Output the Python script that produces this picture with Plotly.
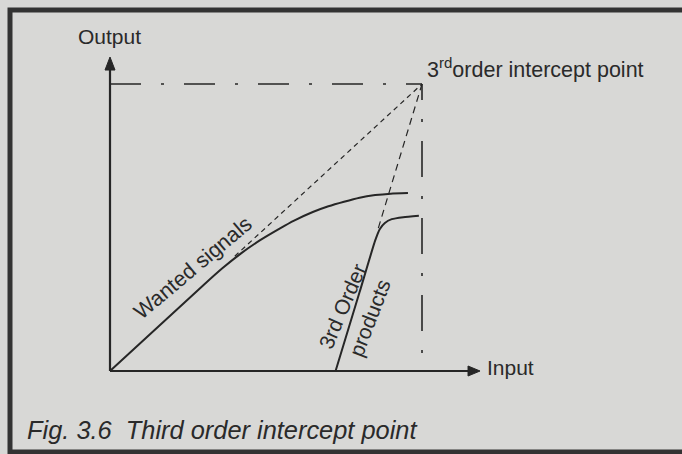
import plotly.graph_objects as go

# ---- data (arbitrary units; origin = 0, intercept = 10) ----
wanted_x = [0, 3.0, 3.6, 4.2, 4.8, 5.45, 5.9, 6.5, 7.0, 7.5, 8.0, 8.5, 9.0, 9.55]
wanted_y = [0, 3.0, 3.58, 4.1, 4.55, 4.97, 5.24, 5.54, 5.74, 5.9, 6.04, 6.13, 6.18, 6.2]

third_x = [7.23, 8.0, 8.5, 8.65, 8.81, 9.03, 9.4, 9.9]
third_y = [0, 2.75, 4.55, 4.95, 5.16, 5.29, 5.36, 5.41]

intercept_x = 10
intercept_y = 10
wanted_ext_start = (4.0, 4.0)
third_ext_start = (8.6, 4.98)
vert_drop_end = 0.63

x_axis_len = 11.86
y_axis_len = 10.94

W, H = 682, 454
X0_PX, XU = 110, 31.2     # pixel of x=0, pixels per unit
Y0_PX, YU = 371, 28.7

xr = [-X0_PX / XU, (W - X0_PX) / XU]
yr = [(Y0_PX - H) / YU, Y0_PX / YU]

INK = "#262626"
TXT = "#2a2a2a"
BG = "#d8d8d6"
FONT = "Liberation Sans, Arial, Helvetica, sans-serif"

fig = go.Figure()

def line(x, y, width=1.8, dash=None, shape="linear", color=INK, smoothing=0.6):
    fig.add_trace(go.Scatter(x=x, y=y, mode="lines", hoverinfo="skip",
                             line=dict(color=color, width=width, dash=dash,
                                       shape=shape, smoothing=smoothing)))

# axes
line([0, x_axis_len - 0.3], [0, 0], width=2.2)
line([0, 0], [0, y_axis_len - 0.35], width=2.2)
# arrowheads
ah_len_x, ah_w_y = 12 / XU, 5 / YU
fig.add_trace(go.Scatter(x=[x_axis_len, x_axis_len - ah_len_x, x_axis_len - ah_len_x, x_axis_len],
                         y=[0, ah_w_y, -ah_w_y, 0], fill="toself", fillcolor=INK,
                         mode="lines", line=dict(color=INK, width=1), hoverinfo="skip"))
ah_len_y, ah_w_x = 13 / YU, 5 / XU
fig.add_trace(go.Scatter(x=[0, ah_w_x, -ah_w_x, 0],
                         y=[y_axis_len, y_axis_len - ah_len_y, y_axis_len - ah_len_y, y_axis_len],
                         fill="toself", fillcolor=INK, mode="lines",
                         line=dict(color=INK, width=1), hoverinfo="skip"))

# dash-dot guide lines to the intercept point
line([0, intercept_x], [intercept_y, intercept_y], width=1.5, dash="31px,20px,3px,20px")
line([intercept_x, intercept_x], [vert_drop_end, intercept_y], width=1.6, dash="3px,19px,36px,19px")

# dashed extrapolations
line([wanted_ext_start[0], intercept_x], [wanted_ext_start[1], intercept_y], width=1.2, dash="5px,4px")
line([third_ext_start[0], intercept_x], [third_ext_start[1], intercept_y], width=1.2, dash="7px,5px")

# curves
line(wanted_x, wanted_y, width=2.0, shape="spline", smoothing=0.5)
line(third_x, third_y, width=2.0, shape="spline", smoothing=0.5)

def X(px):
    return (px - X0_PX) / XU

def Y(py):
    return (Y0_PX - py) / YU

def ann(text, px, py, size=20, angle=0, xanchor="center"):
    fig.add_annotation(x=X(px), y=Y(py), text=text, showarrow=False, textangle=angle,
                       xanchor=xanchor, yanchor="middle", borderpad=0,
                       font=dict(family=FONT, size=size, color=TXT))

ann("Output", 77, 36, size=21, xanchor="left")
ann("Input", 486, 367, size=21, xanchor="left")
ann("3<sup>rd</sup>order intercept point", 426, 68, size=21.5, xanchor="left")
ann("Wanted signals", 193, 268, size=21.5, angle=-40)
ann("3rd Order", 342, 306, size=21, angle=-67)
ann("products", 369, 318, size=21, angle=-69)
ann("<i>Fig. 3.6\u00a0\u00a0Third order intercept point</i>", 26, 430, size=25.4, xanchor="left")

# frame of the printed figure
fig.add_shape(type="rect", xref="paper", yref="paper",
              x0=10 / W, x1=720 / W, y0=1 - 452 / H, y1=1 - 10 / H,
              line=dict(color="#333333", width=5), layer="below")

fig.update_layout(
    width=W, height=H, margin=dict(l=0, r=0, t=0, b=0),
    paper_bgcolor=BG, plot_bgcolor=BG, showlegend=False,
    xaxis=dict(range=xr, visible=False, fixedrange=True),
    yaxis=dict(range=yr, visible=False, fixedrange=True),
)
fig.write_html("out.html", config={"displayModeBar": False},
               post_script="document.body.style.margin='0';document.body.style.overflow='hidden';")
